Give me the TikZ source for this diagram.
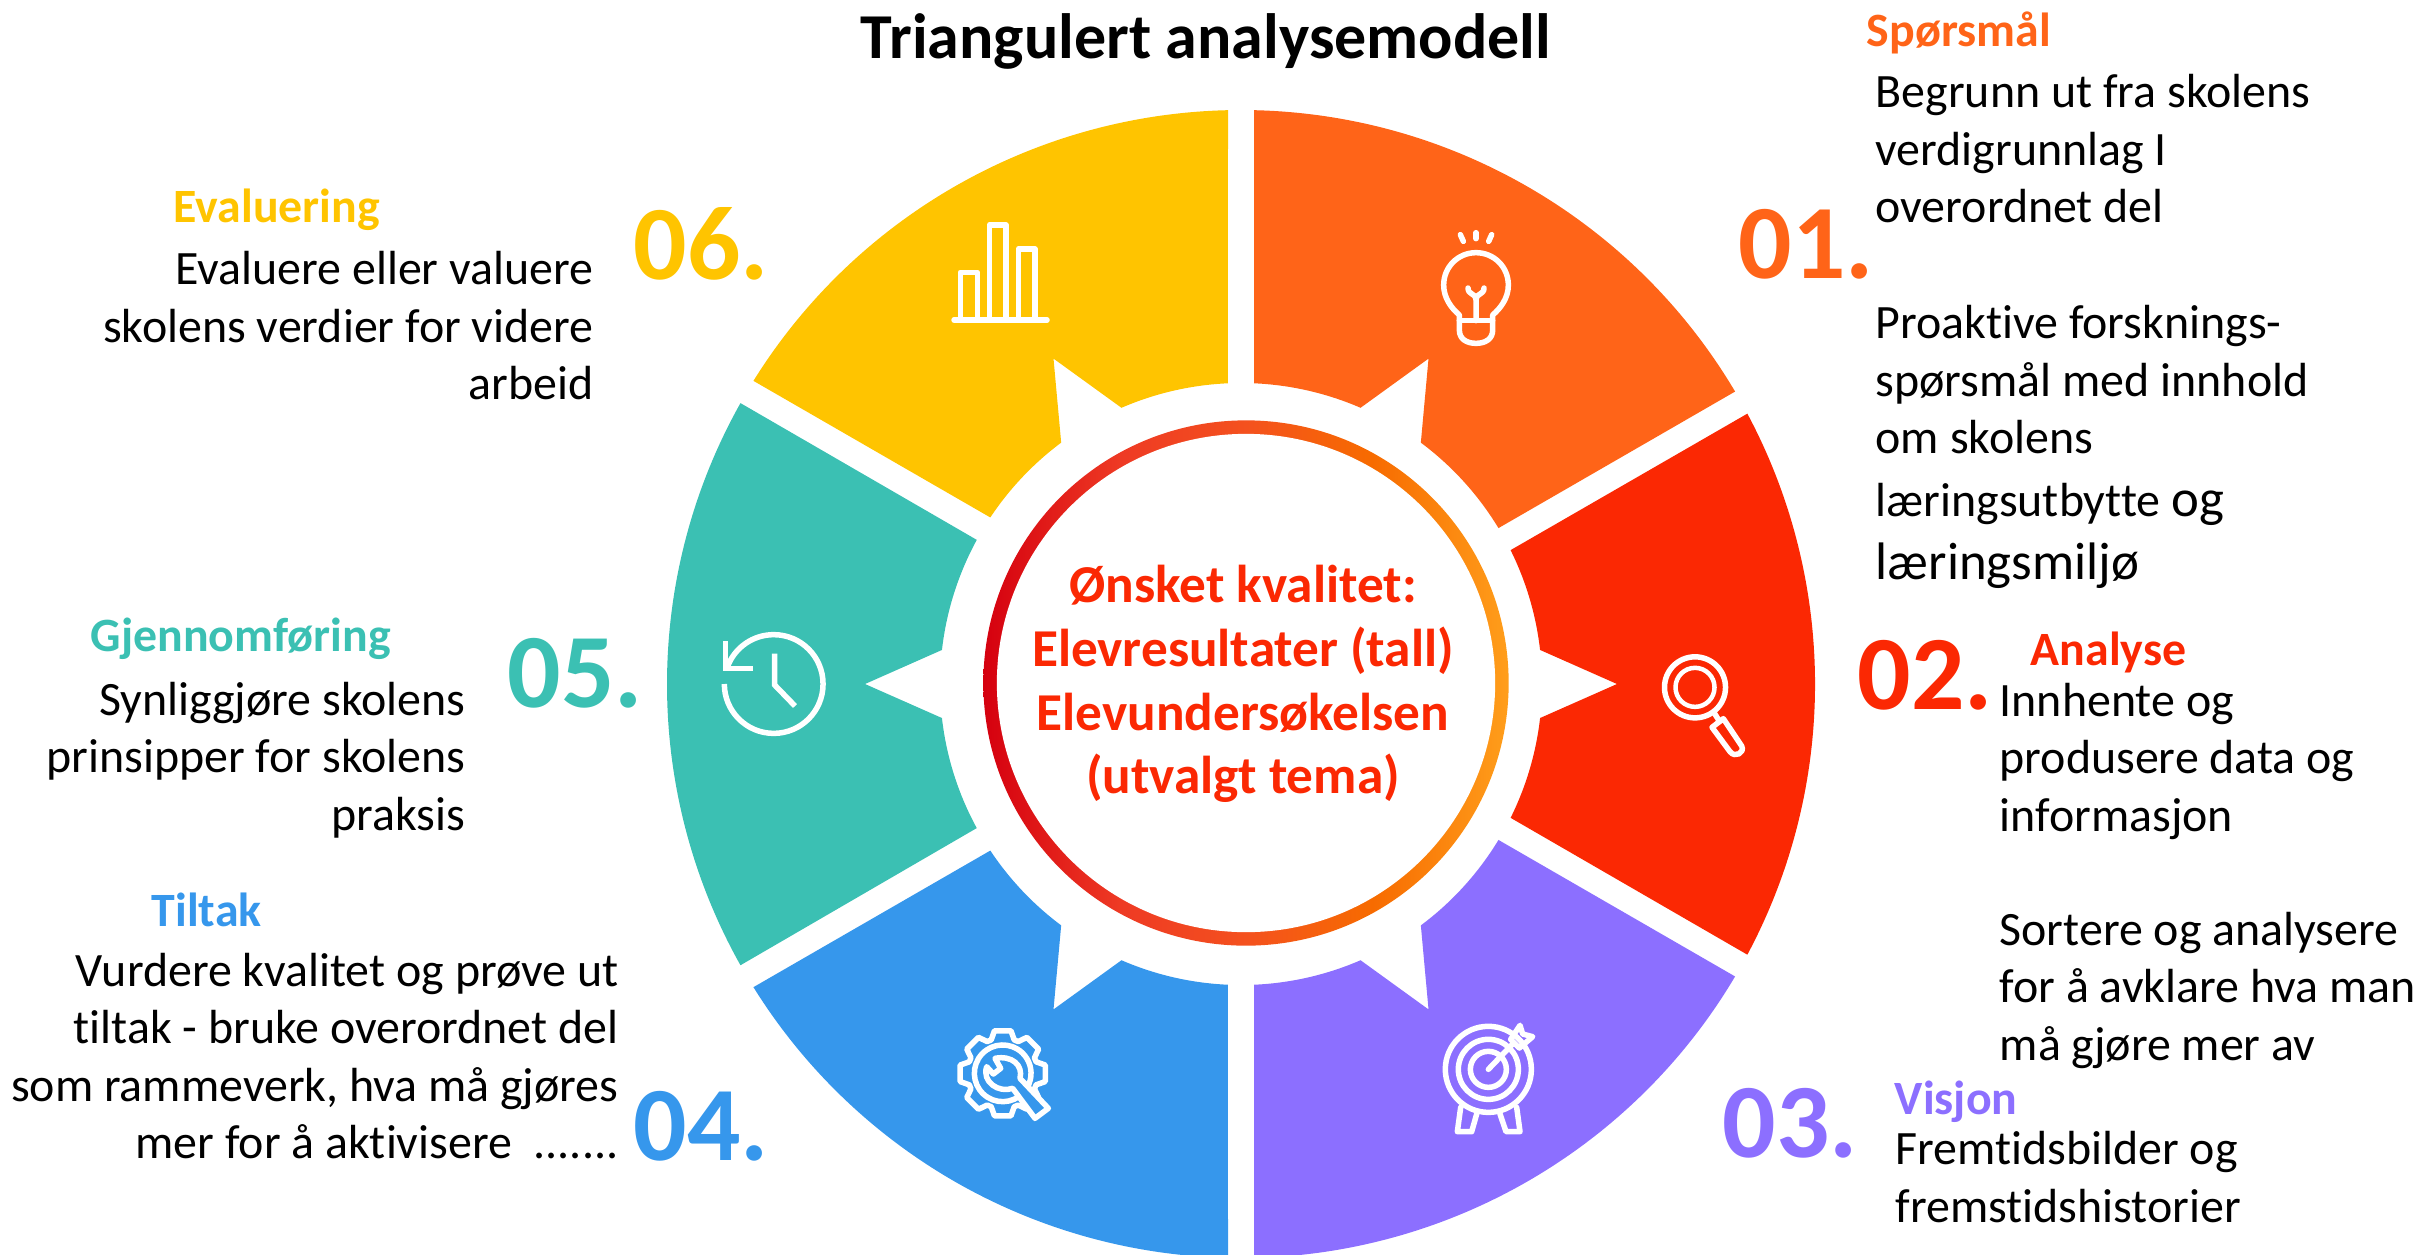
\documentclass[tikz,border=0pt]{standalone}
\usepackage{fontspec}
\setmainfont{Carlito}[Ligatures=NoCommon]
\definecolor{cone}{HTML}{FF6418}
\definecolor{ctwo}{HTML}{FB2803}
\definecolor{cthree}{HTML}{8C6FFF}
\definecolor{cfour}{HTML}{3697EC}
\definecolor{cfive}{HTML}{3BC0B3}
\definecolor{csix}{HTML}{FFC400}
\definecolor{ringa}{HTML}{D5000F}
\definecolor{ringb}{HTML}{EE3A24}
\definecolor{ringc}{HTML}{F4511E}
\definecolor{ringd}{HTML}{F76B00}
\definecolor{ringe}{HTML}{FF9E1B}
\pgfdeclarehorizontalshading{ringshade}{100bp}{color(0bp)=(ringa);color(25bp)=(ringa);color(38bp)=(ringb);color(50bp)=(ringc);color(62bp)=(ringd);color(75bp)=(ringe);color(100bp)=(ringe)}
% wedge with the star notch; #1 outer end angle, #2 inner start angle
\newcommand\wedgeOne[2]{(88.7:574) arc[start angle=88.7,end angle=#1,radius=5.74cm] -- (#2:301) arc[start angle=#2,end angle=53.3,radius=3.01cm] -- (187.5,325.4) -- (66.6:301) arc[start angle=66.6,end angle=87.5,radius=3.01cm] -- cycle}
\newcommand\wedgeTwo[2]{(#1:574) arc[start angle=#1,end angle=-#1,radius=5.74cm] -- (-#2:301) arc[start angle=-#2,end angle=-6.5,radius=3.01cm] -- (376,0) -- (6.5:301) arc[start angle=6.5,end angle=#2,radius=3.01cm] -- cycle}
\tikzset{
  x=0.01cm,y=0.01cm,
  body/.style={font=\fontsize{13.62}{16.36}\selectfont,inner sep=0pt,text=black},
  bodyl/.style={body,align=left,anchor=west},
  bodyr/.style={body,align=right,anchor=east},
  head/.style={font=\fontsize{13.6}{16.4}\selectfont\bfseries,inner sep=0pt,anchor=west},
  num/.style={font=\fontsize{30}{32}\selectfont\bfseries,inner sep=0pt,anchor=west},
  icon/.style={draw=white,line width=0.055cm,line join=round,line cap=round},
  zoomed/.style={x=0.01cm/3,y=-0.01cm/3},
}
\begin{document}
\begin{tikzpicture}
\path[use as bounding box,clip] (0,-1254) rectangle (2422,0);
% wedges
\begin{scope}[shift={(1241,-684)}]
\fill[cone] \wedgeOne{30.65}{31.2};
\fill[ctwo] \wedgeTwo{28.1}{26.4};
\end{scope}
\begin{scope}[shift={(1241,-684)},yscale=-1]
\fill[cthree] \wedgeOne{30.65}{31.2};
\end{scope}
\begin{scope}[shift={(1241,-684)},scale=-1]
\fill[cfour] \wedgeOne{31.9}{33.6};
\end{scope}
\begin{scope}[shift={(1241,-684)},xscale=-1]
\fill[cfive] \wedgeTwo{29.3}{28.6};
\fill[csix] \wedgeOne{31.9}{33.6};
\end{scope}
% centre ring
\coordinate (ringcentre) at (1246,-683);
\shade[shading=ringshade] (ringcentre) circle[radius=2.625cm];
\fill[white] (ringcentre) circle[radius=2.49cm];
\node[font=\fontsize{15.15}{18.1}\selectfont\bfseries,text=ctwo,align=center,inner sep=0pt] (centre) at (1243,-684) {Ønsket kvalitet:\\Elevresultater (tall)\\Elevundersøkelsen\\(utvalgt tema)};
% title
\node[font=\fontsize{18.2}{22}\selectfont\bfseries,inner sep=0pt] (title) at (1206,-41) {Triangulert analysemodell};
% numbers
\node[num,text=cone] (n1) at (1738,-244) {01.};
\node[num,text=ctwo] (n2) at (1857,-675) {02.};
\node[num,text=cthree] (n3) at (1722,-1123) {03.};
\node[num,text=cfour] (n4) at (633,-1126) {04.};
\node[num,text=cfive] (n5) at (507,-673) {05.};
\node[num,text=csix] (n6) at (633,-244) {06.};
% headings
\node[head,text=cone] (h1) at (1866,-33) {Spørsmål};
\node[head,text=ctwo] (h2) at (2030,-652) {Analyse};
\node[head,text=cthree] (h3) at (1894,-1102) {Visjon};
\node[head,text=cfour] (h4) at (151,-910) {Tiltak};
\node[head,text=cfive] (h5) at (90,-639) {Gjennomføring};
\node[head,text=csix] (h6) at (173,-210) {Evaluering};
% body text
\node[bodyl] (t1a) at (1875,-149) {Begrunn ut fra skolens\\verdigrunnlag I\\overordnet del};
\node[bodyl] (t1b) at (1875,-380) {Proaktive forsknings-\\spørsmål med innhold\\om skolens};
\node[bodyl,font=\fontsize{13.62}{18}\selectfont] (t1c) at (1875,-536) {læringsutbytte {\fontsize{15}{18}\selectfont og}\\{\fontsize{15}{18}\selectfont læringsmiljø}};
\node[bodyl] (t2a) at (1999,-761) {Innhente og\\produsere data og\\informasjon};
\node[bodyl] (t2b) at (1999,-990) {Sortere og analysere\\for å avklare hva man\\må gjøre mer av};
\node[bodyl] (t3a) at (1895,-1177) {Fremtidsbilder og\\fremstidshistorier};
\node[bodyr] (t4a) at (619,-1056) {Vurdere kvalitet og prøve ut\\tiltak - bruke overordnet del\\som rammeverk, hva må gjøres\\mer for å aktivisere\ \ .......};
\node[bodyr] (t5a) at (466,-760) {Synliggjøre skolens\\prinsipper for skolens\\praksis};
\node[bodyr] (t6a) at (594,-326) {Evaluere eller valuere\\skolens verdier for videre\\arbeid};
% bulb
\begin{scope}[shift={(1380,-200)},zoomed]
\draw[icon] (238,345) .. controls (215,325) and (191,295) .. (191,255) .. controls (191,201) and (234,158) .. (288,158) .. controls (342,158) and (385,201) .. (385,255) .. controls (385,295) and (361,325) .. (338,345) -- (338,390) .. controls (338,417) and (316,430) .. (288,430) .. controls (260,430) and (238,417) .. (238,390) -- cycle;
\draw[icon] (238,362) -- (338,362);
\draw[icon] (288,362) -- (288,298) .. controls (288,280) and (264,285) .. (264,264);
\draw[icon] (288,298) .. controls (288,280) and (312,285) .. (312,264);
\draw[icon] (288,98) -- (288,116);
\draw[icon] (241,104) -- (250,124);
\draw[icon] (335,104) -- (326,124);
\end{scope}
% chart
\begin{scope}[shift={(920,-200)},zoomed]
\draw[icon] (121,360) -- (121,217) -- (172,217) -- (172,360);
\draw[icon] (208,360) -- (208,75) -- (258,75) -- (258,360);
\draw[icon] (295,360) -- (295,147) -- (345,147) -- (345,360);
\draw[icon] (102,360) -- (381,360);
\end{scope}
% clock
\begin{scope}[shift={(700,-610)},zoomed]
\draw[icon,line cap=butt] (73,222) arc[start angle=180,end angle=520,radius=0.4933cm];
\draw[icon,line cap=butt,line join=miter] (77,93) -- (77,175) -- (160,175);
\draw[icon,line cap=butt,line join=miter] (224,131) -- (224,225) -- (285,288);
\end{scope}
% magnifier
\begin{scope}[shift={(1640,-640)},zoomed]
\draw[icon] (165,142) circle[radius=0.305cm];
\draw[icon,line width=0.045cm] (165,142) circle[radius=0.195cm];
\draw[icon] (222,218) -- (236,240);
\draw[icon] (250,236) -- (305,318) .. controls (315,338) and (285,355) .. (270,335) -- (216,262) -- cycle;
\end{scope}
% target
\begin{scope}[shift={(1420,-1010)},zoomed]
\draw[icon] (205,178) circle[radius=0.43cm];
\draw[icon] (205,178) circle[radius=0.3cm];
\draw[icon] (205,178) circle[radius=0.18cm];
\draw[icon] (205,178) -- (278,102);
\draw[icon] (272,88) -- (300,46) -- (308,72) -- (338,80) -- (298,114) -- cycle;
\draw[icon] (122,292) -- (112,365) -- (155,365) -- (170,312);
\draw[icon] (240,312) -- (258,365) -- (300,365) -- (290,292);
\end{scope}
% gear with wrench
\begin{scope}[shift={(1002.7,-1073.3)},x=0.01cm/3,y=0.01cm/3]
\draw[icon] (-11:130) \foreach \a in {0,45,...,315}{ -- (\a-11:130) -- (\a+11:130) -- (\a+19:106) -- (\a+26:106)} -- cycle;
\draw[icon] (-43:85) arc[start angle=-43,end angle=-410,radius=0.2833cm];
\end{scope}
\begin{scope}[shift={(940,-1010)},zoomed]
\draw[icon,fill=cfour] (165,145) -- (182,175) -- (160,192) -- (140,170) .. controls (125,215) and (175,250) .. (218,235) -- (285,325) -- (325,295) -- (240,205) .. controls (250,165) and (215,135) .. (165,145) -- cycle;
\end{scope}
\end{tikzpicture}
\end{document}
